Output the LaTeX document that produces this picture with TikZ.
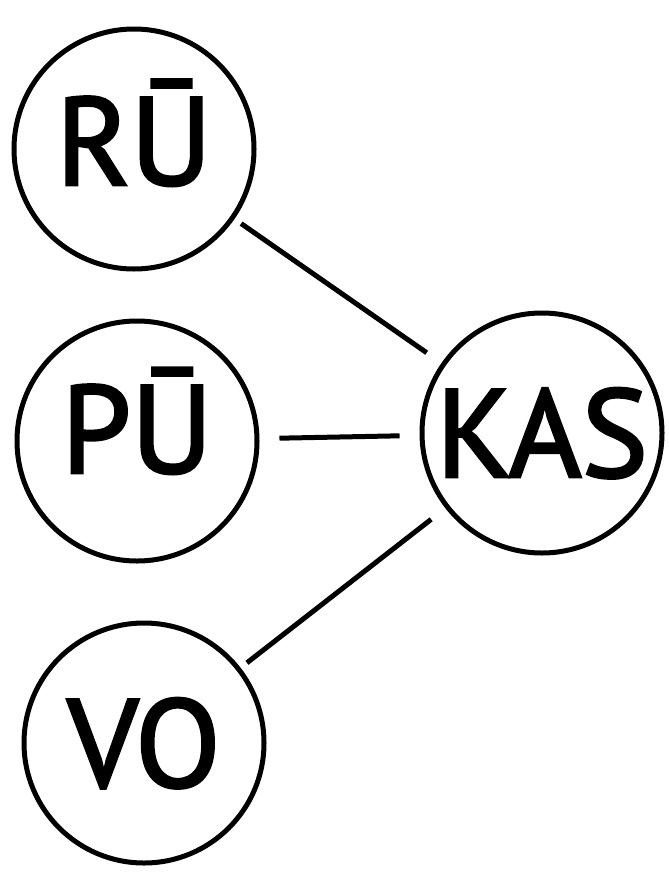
\documentclass[tikz,border=0pt]{standalone}
\usepackage{fontspec}
\setmainfont{PT Sans}
\tikzset{
  syl/.style={circle, draw, line width=5pt, minimum size=240pt, inner sep=0pt,
    font=\fontsize{125}{125}\selectfont, text height=88pt, text depth=0pt},
  link/.style={line width=5pt}
}
\newfontfamily\sylfont{PT Sans}[FakeBold=2.2]
\begin{document}
\begin{tikzpicture}[x=1pt,y=-1pt]
\useasboundingbox[fill=white] (0,0) rectangle (669,878);
\node[syl] (ru) at (134,149){\sylfont\raisebox{8pt}{RŪ}};
\node[syl] (pu) at (137,441){\sylfont\raisebox{12pt}{PŪ}};
\node[syl] (vo) at (144,743){\sylfont VO};
\node[syl] (kas) at (542,433){\sylfont KAS};
\draw[link, shorten <=8pt, shorten >=18pt](ru) -- (kas);
\draw[link, shorten <=20pt, shorten >=20pt](pu) -- (kas);
\draw[link, shorten <=8pt, shorten >=18pt](vo) -- (kas);

\end{tikzpicture}
\end{document}
